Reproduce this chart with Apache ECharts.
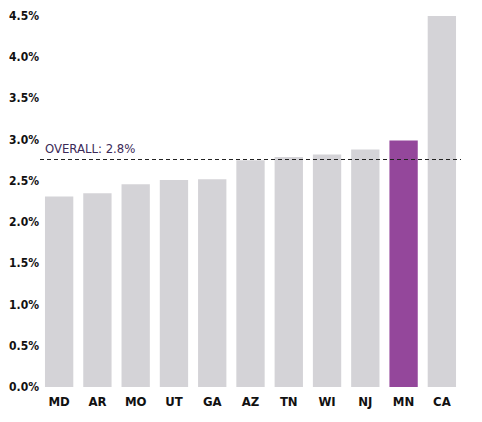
<!DOCTYPE html>
<html>
<head>
<meta charset="utf-8">
<script src="https://cdn.jsdelivr.net/npm/echarts@6/dist/echarts.min.js"></script>
<style>
  html, body { margin: 0; padding: 0; background: #fff; }
  #chart { width: 482px; height: 422px; }
  #chart text { font-stretch: condensed !important; }
</style>
</head>
<body>
<div id="chart"></div>
<script>
// 各州数据
var states = ['MD', 'AR', 'MO', 'UT', 'GA', 'AZ', 'TN', 'WI', 'NJ', 'MN', 'CA'];
var rates = [2.31, 2.35, 2.46, 2.51, 2.52, 2.75, 2.79, 2.82, 2.88, 2.99, 4.5];
var highlight = 'MN';
var overall = 2.76;
var overallLabel = 'OVERALL: 2.8%';
var yTicks = [0, 0.5, 1, 1.5, 2, 2.5, 3, 3.5, 4, 4.5];

function drawChart() {
  var myChart = echarts.init(document.getElementById('chart'), null, { renderer: 'svg' });
  var fontName = '"DejaVu Sans", sans-serif';

  var barData = states.map(function (s, i) {
    return {
      value: rates[i],
      itemStyle: { color: s === highlight ? '#94479b' : '#d4d3d7' }
    };
  });

  var option = {
    animation: false,
    grid: {
      left: 40,
      right: 21,
      top: 16,
      bottom: 35
    },
    xAxis: {
      type: 'category',
      data: states,
      axisLine: { show: false },
      axisTick: { show: false },
      axisLabel: {
        color: '#111',
        fontFamily: fontName,
        fontWeight: 'bold',
        fontSize: 13,
        margin: 8
      }
    },
    yAxis: {
      type: 'value',
      min: yTicks[0],
      max: yTicks[yTicks.length - 1],
      interval: 0.5,
      splitLine: { show: false },
      axisLine: { show: false },
      axisTick: { show: false },
      axisLabel: {
        color: '#111',
        fontFamily: fontName,
        fontWeight: 'bold',
        fontSize: 12,
        margin: 1,
        formatter: function (v) { return v.toFixed(1) + '%'; }
      }
    },
    series: [{
      type: 'bar',
      data: barData,
      barCategoryGap: '26%',
      markLine: {
        symbol: 'none',
        silent: true,
        lineStyle: { color: '#222', type: [4, 3], width: 1 },
        label: {
          position: 'insideStartTop',
          formatter: overallLabel,
          color: '#3b2a58',
          fontFamily: fontName,
          fontSize: 13,
          distance: [5, 4]
        },
        data: [{ yAxis: overall }]
      }
    }]
  };

  myChart.clear();
  myChart.setOption(option);
  window.addEventListener('resize', function () {
    myChart.resize();
  });
}
drawChart();
</script>
</body>
</html>
